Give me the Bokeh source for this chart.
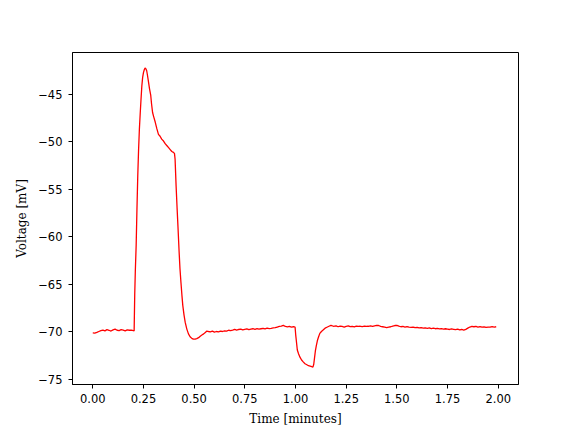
from bokeh.plotting import figure
from bokeh.models import Range1d, FixedTicker
from bokeh.embed import file_html
from bokeh.resources import INLINE

time_min = [
    0.00, 0.01, 0.02, 0.03, 0.04, 0.05, 0.06, 0.07, 0.08, 0.09, 0.10, 0.11, 0.12, 0.13, 0.14, 0.15,
    0.16, 0.17, 0.18, 0.19, 0.20, 0.204,
    0.207, 0.210, 0.214, 0.218, 0.222, 0.226, 0.230, 0.234, 0.238, 0.242, 0.246, 0.250, 0.254, 0.258,
    0.262, 0.266, 0.270, 0.275, 0.280, 0.286, 0.290, 0.295, 0.300, 0.308, 0.316, 0.324, 0.332, 0.340,
    0.349, 0.358, 0.366, 0.374, 0.382, 0.390, 0.398, 0.403, 0.406, 0.411, 0.416, 0.420, 0.426, 0.430,
    0.435, 0.440, 0.444, 0.450, 0.456, 0.464, 0.472, 0.480, 0.490, 0.497, 0.505, 0.513, 0.522, 0.530,
    0.540, 0.547, 0.555, 0.563, 0.57, 0.58, 0.59, 0.60, 0.61, 0.62, 0.63, 0.64, 0.65, 0.66, 0.67, 0.68,
    0.69, 0.70, 0.71, 0.72, 0.73, 0.74, 0.75, 0.76, 0.77, 0.78, 0.79, 0.80, 0.81, 0.82, 0.83, 0.84,
    0.85, 0.86, 0.87, 0.88, 0.89, 0.90, 0.91, 0.92, 0.93, 0.94, 0.95, 0.96, 0.97, 0.98, 0.99, 0.998,
    1.001, 1.004, 1.009, 1.015, 1.022, 1.030, 1.038, 1.047, 1.056, 1.064, 1.072, 1.080, 1.086, 1.090,
    1.094, 1.098, 1.103, 1.108, 1.114, 1.120, 1.128, 1.136, 1.146, 1.155, 1.165, 1.175, 1.187,
    1.20, 1.21, 1.22, 1.23, 1.24, 1.25, 1.26, 1.27, 1.28, 1.29, 1.30, 1.31, 1.32, 1.33, 1.34, 1.35,
    1.36, 1.37, 1.38, 1.39, 1.40, 1.41, 1.42, 1.43, 1.44, 1.45, 1.46, 1.47, 1.48, 1.49, 1.50, 1.51,
    1.52, 1.53, 1.54, 1.55, 1.56, 1.57, 1.58, 1.59, 1.60, 1.61, 1.62, 1.63, 1.64, 1.65, 1.66, 1.67,
    1.68, 1.69, 1.70, 1.71, 1.72, 1.73, 1.74, 1.75, 1.76, 1.77, 1.78, 1.79, 1.80, 1.81, 1.82, 1.83,
    1.84, 1.85, 1.86, 1.87, 1.88, 1.89, 1.90, 1.91, 1.92, 1.93, 1.94, 1.95, 1.96, 1.97, 1.98, 1.99, 2.00,
]

voltage_mv = [
    -70.10, -70.12, -70.05, -69.95, -69.85, -69.80, -69.88, -69.75, -69.82, -69.90, -69.78, -69.70,
    -69.82, -69.85, -69.75, -69.80, -69.88, -69.78, -69.82, -69.80, -69.85, -69.90,
    -66.0, -63.5, -60.9, -57.0, -53.5, -50.8, -48.6, -47.0, -45.5, -44.1, -43.2, -42.7, -42.4, -42.2,
    -42.3, -42.5, -43.0, -43.7, -44.4, -45.1, -46.0, -46.9, -47.3, -47.9, -48.6, -49.2, -49.4, -49.7,
    -49.9, -50.2, -50.4, -50.6, -50.8, -51.0, -51.1, -51.2, -51.8, -54.6, -57.0, -58.8, -61.6, -63.3,
    -64.8, -66.2, -67.2, -68.2, -69.0, -69.7, -70.2, -70.5, -70.7, -70.76, -70.75, -70.7, -70.6, -70.45,
    -70.3, -70.2, -70.05, -69.9, -69.95, -70.0, -69.92, -70.02, -69.95, -69.98, -69.90, -69.95, -69.88,
    -69.92, -69.82, -69.86, -69.80, -69.72, -69.80, -69.74, -69.70, -69.78, -69.72, -69.68, -69.75,
    -69.70, -69.66, -69.72, -69.64, -69.70, -69.66, -69.62, -69.68, -69.60, -69.64, -69.62, -69.58,
    -69.55, -69.48, -69.42, -69.38, -69.30, -69.42, -69.46, -69.40, -69.48, -69.45, -69.50,
    -70.3, -70.9, -71.9, -72.3, -72.65, -72.95, -73.15, -73.35, -73.45, -73.55, -73.6, -73.65, -73.7,
    -73.4, -72.7, -72.0, -71.4, -70.9, -70.5, -70.15, -69.95, -69.8, -69.6, -69.5, -69.4, -69.3,
    -69.40, -69.35, -69.45, -69.38, -69.42, -69.48, -69.40, -69.36, -69.44, -69.40, -69.46, -69.38,
    -69.42, -69.40, -69.44, -69.38, -69.42, -69.40, -69.36, -69.42, -69.35, -69.30, -69.32, -69.40,
    -69.45, -69.50, -69.55, -69.50, -69.45, -69.38, -69.32, -69.30, -69.38, -69.45, -69.42, -69.48,
    -69.44, -69.50, -69.52, -69.48, -69.55, -69.52, -69.58, -69.54, -69.60, -69.56, -69.62, -69.58,
    -69.64, -69.60, -69.66, -69.62, -69.68, -69.64, -69.70, -69.66, -69.70, -69.74, -69.68, -69.72,
    -69.76, -69.70, -69.78, -69.74, -69.80, -69.72, -69.60, -69.48, -69.42, -69.45, -69.40, -69.48,
    -69.44, -69.50, -69.46, -69.52, -69.48, -69.50, -69.44, -69.48, -69.45,
]

x_ticks = [0.0, 0.25, 0.5, 0.75, 1.0, 1.25, 1.5, 1.75, 2.0]
x_tick_labels = ["0.00", "0.25", "0.50", "0.75", "1.00", "1.25", "1.50", "1.75", "2.00"]
y_ticks = [-75, -70, -65, -60, -55, -50, -45]
y_tick_labels = ["\u221275", "\u221270", "\u221265", "\u221260", "\u221255", "\u221250", "\u221245"]

p = figure(
    output_backend="svg", toolbar_location=None,
    frame_width=446, frame_height=332,
    min_border_left=72, min_border_right=50, min_border_top=52, min_border_bottom=40,
    x_range=Range1d(-0.1, 2.1), y_range=Range1d(-75.53, -40.58),
    background_fill_color="white", border_fill_color="white",
)

p.line(time_min, voltage_mv, line_color="red", line_width=1.3)

p.grid.visible = False
p.outline_line_color = "black"
p.outline_line_width = 1
p.outline_line_alpha = 1

p.xaxis.ticker = FixedTicker(ticks=x_ticks)
p.xaxis.major_label_overrides = {t: l for t, l in zip(x_ticks, x_tick_labels)}
p.yaxis.ticker = FixedTicker(ticks=y_ticks)
p.yaxis.major_label_overrides = {t: l for t, l in zip(y_ticks, y_tick_labels)}

for ax in (p.xaxis, p.yaxis):
    ax.axis_line_color = "black"
    ax.major_tick_out = 4
    ax.major_tick_in = 0
    ax.minor_tick_out = 0
    ax.minor_tick_in = 0
    ax.major_tick_line_color = "black"
    ax.major_label_text_font = "DejaVu Sans"
    ax.major_label_text_font_size = "11.5px"
    ax.major_label_text_color = "black"
    ax.axis_label_text_font = "DejaVu Serif"
    ax.axis_label_text_font_size = "12px"
    ax.axis_label_text_font_style = "normal"
    ax.axis_label_text_color = "black"

p.xaxis.major_label_standoff = 5
p.yaxis.major_label_standoff = 6
p.xaxis.axis_label = "Time [minutes]"
p.yaxis.axis_label = "Voltage [mV]"
p.xaxis.axis_label_standoff = 6
p.yaxis.axis_label_standoff = 6

open("out.html", "w").write(file_html(p, INLINE))
